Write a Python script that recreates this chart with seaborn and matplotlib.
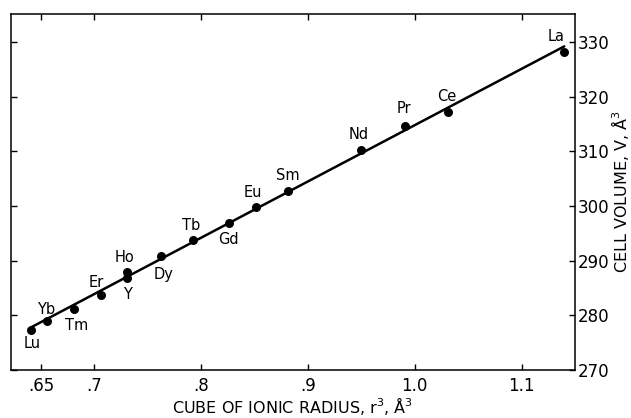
import matplotlib
matplotlib.use("Agg")
import matplotlib.pyplot as plt
import seaborn as sns
import pandas as pd

# Rare-earth elements: cube of ionic radius (Å^3) and cell volume (Å^3)
elements = ["Lu", "Yb", "Tm", "Er", "Ho", "Y", "Dy", "Tb", "Gd", "Eu",
            "Sm", "Nd", "Pr", "Ce", "La"]
r_cubed = [0.641, 0.656, 0.681, 0.706, 0.731, 0.731, 0.762, 0.792, 0.826,
           0.851, 0.881, 0.950, 0.991, 1.031, 1.140]
cell_volume = [277.4, 279.0, 281.2, 283.8, 288.0, 286.9, 290.8, 293.8, 296.9,
               299.9, 302.8, 310.3, 314.7, 317.2, 328.2]

# label offsets in points (dx, dy)
label_offsets = {
    "Lu": (1, -10), "Yb": (-1, 8), "Tm": (2, -12), "Er": (-3, 9),
    "Ho": (-2, 10), "Y": (0, -12), "Dy": (2, -13), "Tb": (-1, 10),
    "Gd": (0, -12), "Eu": (-2, 10), "Sm": (0, 11), "Nd": (-2, 11),
    "Pr": (-1, 12), "Ce": (-1, 11), "La": (-6, 11),
}

x_ticks = [0.65, 0.7, 0.8, 0.9, 1.0, 1.1]
x_tick_labels = [".65", ".7", ".8", ".9", "1.0", "1.1"]
y_ticks = [270, 280, 290, 300, 310, 320, 330]

df = pd.DataFrame({"element": elements, "r3": r_cubed, "V": cell_volume})

sns.set_style("white")
plt.rcParams["font.family"] = ["DejaVu Sans"]
plt.rcParams["text.color"] = "black"
plt.rcParams["axes.labelcolor"] = "black"
plt.rcParams["xtick.color"] = "black"
plt.rcParams["ytick.color"] = "black"

fig = plt.figure(figsize=(6.31, 4.18), dpi=100)
ax = fig.add_axes([0.0174, 0.1148, 0.8938, 0.8517])

sns.regplot(data=df, x="r3", y="V", ax=ax, ci=None, scatter=False,
            line_kws={"color": "black", "linewidth": 1.8})
sns.scatterplot(data=df, x="r3", y="V", ax=ax, color="black", s=42,
                edgecolor="black", linewidth=0, zorder=3)

for name, x, y in zip(elements, r_cubed, cell_volume):
    dx, dy = label_offsets[name]
    ax.annotate(name, (x, y), xytext=(dx, dy), textcoords="offset points",
                ha="center", va="center", fontsize=10.5, color="black")

ax.set_xlim(0.622, 1.150)
ax.set_ylim(270, 335.1)
ax.set_xticks(x_ticks)
ax.set_xticklabels(x_tick_labels)
ax.set_yticks(y_ticks)

ax.yaxis.tick_right()
ax.yaxis.set_label_position("right")
ax.tick_params(axis="both", direction="in", length=4, width=1, color="black",
               labelcolor="black", labelsize=12, top=True, bottom=True,
               left=True, right=True, labelleft=False, labelright=True, pad=2)
ax.tick_params(axis="x", pad=5)

for spine in ax.spines.values():
    spine.set_visible(True)
    spine.set_color("black")
    spine.set_linewidth(1.1)

ax.set_xlabel("CUBE OF IONIC RADIUS, r$^3$, Å$^3$", fontsize=11.5, labelpad=0)
ax.set_ylabel("CELL VOLUME, V, Å$^3$", fontsize=11.5, labelpad=0)

fig.savefig("out.png", dpi=100, facecolor="white")
